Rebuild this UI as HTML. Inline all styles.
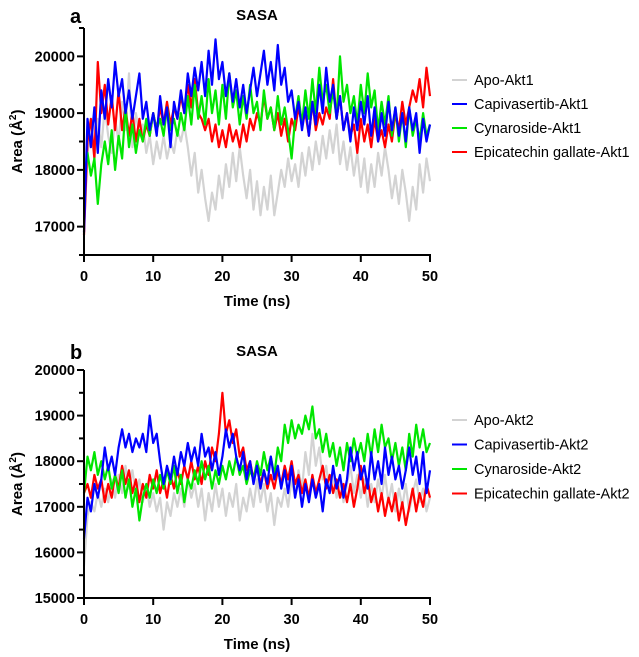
<!DOCTYPE html>
<html><head><meta charset="utf-8"><style>
body{margin:0;background:#fff;font-family:"Liberation Sans",Arial,sans-serif;}
svg text{font-family:"Liberation Sans",Arial,sans-serif;}
</style></head><body>
<svg id="chart" width="639" height="652" viewBox="0 0 639 652" xmlns="http://www.w3.org/2000/svg"></svg>
<script>
const seriesNamesA = ["Apo-Akt1","Capivasertib-Akt1","Cynaroside-Akt1","Epicatechin gallate-Akt1"];
const seriesNamesB = ["Apo-Akt2","Capivasertib-Akt2","Cynaroside-Akt2","Epicatechin gallate-Akt2"];
const seriesColors = ["#d3d3d3","#0000ff","#00e600","#ff0000"];
const timeStep = 0.5;
const xTicks = [0,10,20,30,40,50];
const yTicksA = [17000,18000,19000,20000];
const yTicksB = [15000,16000,17000,18000,19000,20000];

const apoA = [16900,18300,18700,18200,18900,18400,19100,18600,18300,18900,18500,19200,18700,19700,18400,19000,18600,18800,18300,18600,18100,18500,18200,18600,18200,18500,18300,18700,18500,18800,18400,17900,18300,17600,18000,17500,17100,17600,17300,17900,17500,18100,17700,18300,17800,18400,17900,17500,18000,17300,17800,17200,17700,17300,17900,17200,17600,18000,17700,18200,17800,18100,17700,18300,17900,18400,18000,18500,18100,18600,18200,18700,18300,18800,18100,18500,18000,18400,17900,18300,17700,18200,17600,18100,17700,18300,17900,18400,18000,17500,17900,17400,18000,17600,17100,17700,17300,18100,17600,18200,17800];
const capA = [16900,18900,18400,19100,18300,19400,18900,19600,19100,19900,19300,19600,19000,19400,18900,19300,19700,18900,19200,18700,19000,18600,19300,18800,19100,18400,19200,18900,19400,19000,19700,19300,19800,19400,19900,19300,20100,19500,20300,19600,19900,19300,19700,19200,19600,19100,19500,19000,19400,19800,19300,19700,20100,19500,19900,19400,20200,19500,19800,19200,19400,18900,19200,18700,19100,18600,19200,18800,19500,19000,19800,19200,19500,18900,19300,18700,19000,18500,19100,18700,19200,18800,19300,18600,19100,18500,19000,18600,19200,18700,19100,18600,19000,18500,19100,18700,19000,18300,18900,18500,18800];
const cynA = [17800,18300,17900,18200,17400,18100,18500,18100,18700,18000,18600,18200,19100,18400,18800,18300,18700,18500,18900,18600,19000,18700,18900,18600,19100,18700,18900,18600,19000,18700,19300,18800,19500,18900,19300,18800,19600,19000,19400,18800,19500,18900,19700,19100,19400,18800,19300,18900,19500,19000,19200,18700,19400,18900,19100,18700,19300,18800,19100,18700,18200,18900,19300,18800,19400,18900,19600,19000,19800,19200,19500,19000,19400,18900,20000,19200,19500,19000,19300,18800,19500,19000,19700,19100,19400,18700,19200,18800,19300,18600,19100,18500,19000,18400,19100,18600,18900,18500,19000,18600,18800];
const epiA = [16850,18500,18900,18200,19900,19000,19500,18800,19300,18700,19400,18700,19100,18600,19000,18500,18900,18500,18800,18600,19000,18700,19100,18800,19200,18800,19100,18900,19300,19000,19500,19100,19600,19000,18900,18700,18900,18500,18800,18400,18700,18400,18800,18500,18700,18400,18800,18500,18900,18700,19000,18800,19300,18900,19100,18700,19000,18600,18900,18500,18900,18700,19100,18800,19000,18600,19200,18700,19000,18800,19100,18900,19600,18900,19300,18700,19000,18600,18800,18300,18900,18500,18800,18400,18900,18500,18700,18400,18800,18500,19000,18700,19200,18800,19100,19400,19200,19600,19100,19800,19300];

const apoB = [15700,16800,17100,16900,17300,17000,17400,17100,17600,17200,17700,17300,17900,17400,17800,17300,17600,17100,17500,17000,17300,16900,17200,16500,17100,16800,17300,17000,17400,17000,17600,17200,17500,17000,17400,16700,17300,16900,17500,17000,17400,16800,17300,17000,17500,16700,17200,16900,17400,17000,17600,17100,17500,16900,17300,16600,17200,17000,17400,17000,17600,17200,17800,17400,18200,17700,18600,17900,18300,17600,17900,17300,17700,17200,17600,17100,17500,17900,17300,17700,17200,17600,17000,17500,17100,17600,17200,17700,17100,17500,16900,17400,17000,17500,16900,17300,17600,17100,17400,16900,17200];
const capB = [16300,17200,16900,17500,17200,17600,18300,17800,18100,17700,18300,18700,18300,18600,18200,18500,18300,18600,18200,19000,18400,18600,18000,17500,17900,17600,18100,17700,18200,17900,18400,18000,18300,17900,18600,18100,18300,17800,18200,17700,18100,18700,18300,18600,18100,17800,18200,17600,18000,17500,17900,17400,17800,17500,18100,17600,17900,17400,17800,17300,17900,17200,17600,17000,17500,17100,17600,17200,17500,16900,17600,17300,17900,17400,17700,17200,17600,18300,17800,18200,17600,17900,17400,18200,17600,18000,17500,18300,17700,18100,17600,17900,17400,17800,18300,17700,18100,17500,18200,17300,17800];
const cynB = [17300,18100,17800,18200,17700,18000,17600,17900,17400,17700,17300,17800,17200,17600,17000,17400,16700,17200,17500,17200,17600,17300,17700,17400,17800,17500,17900,17300,17700,17100,17600,17400,17800,17500,18000,17600,17900,17400,17800,17500,17900,17600,18000,17700,18100,17700,17900,17500,17800,17600,18000,17700,18200,17800,18100,17700,18300,18000,18800,18400,18900,18500,18800,18600,19000,18700,19200,18500,18700,18200,18600,18100,18400,17900,18300,17800,18400,18000,18500,18100,18400,18000,18600,18100,18700,18200,18800,18300,18500,18000,18400,17900,18300,17800,18600,18100,18800,18300,18700,18200,18400];
const epiB = [17300,17500,17200,17700,17400,17600,17100,17500,17200,17700,17400,17900,17500,17800,17300,17600,17100,17500,17200,17700,17400,17800,17300,17600,17200,17700,17400,17800,17500,17900,17600,18000,17600,17900,17500,18000,17700,18300,18000,18600,19500,18600,18900,18400,18700,18100,18300,17800,18000,17600,17900,17500,17800,17400,17700,17400,17800,17500,17900,17600,18000,17500,17700,17300,17600,17200,17700,17300,17600,17900,17400,17700,17300,17600,17200,17500,17100,17500,17000,17400,17900,17300,17600,17100,17400,16900,17300,16800,17200,16900,17300,16700,17100,16600,17000,17400,16900,17300,17000,17500,17200];

const NS = "http://www.w3.org/2000/svg";
const svg = document.getElementById("chart");
function mk(tag, attrs, parent){ const e=document.createElementNS(NS,tag); for(const k in attrs) e.setAttribute(k,attrs[k]); (parent||svg).appendChild(e); return e; }

function panel(cfg){
  const g = mk("g",{});
  
  
  const x0=84, x1=430;
  const xS = t => x0 + (t/50)*(x1-x0);
  const yS = v => cfg.yTop + (cfg.vTop - v)/(cfg.vTop - cfg.vBot)*(cfg.yBot - cfg.yTop);
  const order=[0,3,2,1];
  order.forEach(si=>{
    const d = cfg.data[si].map((v,i)=>(i?"L":"M")+xS(i*timeStep).toFixed(1)+","+yS(v).toFixed(1)).join("");
    const p = mk("path",{d:d,fill:"none",stroke:seriesColors[si],"stroke-width":2.2,"stroke-linejoin":"round"},g);
    
    
  });
  const ya = mk("line",{x1:x0,y1:cfg.yTop,x2:x0,y2:cfg.yBot,stroke:"#000","stroke-width":2},g);
  
  
  const xa = mk("line",{x1:x0-1,y1:cfg.yBot,x2:x1+1,y2:cfg.yBot,stroke:"#000","stroke-width":2},g);
  
  
  for(let v=cfg.vBot; v<=cfg.vTop+1; v+=500){
    const major = cfg.yTicks.indexOf(v)>=0;
    mk("line",{x1:x0-(major?7:5),y1:yS(v),x2:x0,y2:yS(v),stroke:"#000","stroke-width":2},g);
  }
  cfg.yTicks.forEach(v=>{
    const t = mk("text",{x:x0-9,y:yS(v)+5,"text-anchor":"end","font-size":14.5,"font-weight":"bold"},g);
    t.textContent=v;
    
    
  });
  xTicks.forEach(v=>{
    mk("line",{x1:xS(v),y1:cfg.yBot,x2:xS(v),y2:cfg.yBot+7,stroke:"#000","stroke-width":2},g);
    const t = mk("text",{x:xS(v),y:cfg.yBot+26,"text-anchor":"middle","font-size":14.5,"font-weight":"bold"},g);
    t.textContent=v;
    
    
  });
  const xt = mk("text",{x:257,y:cfg.yBot+51,"text-anchor":"middle","font-size":15,"font-weight":"bold"},g);
  xt.textContent="Time (ns)";
  
  
  const cy=(cfg.yTop+cfg.yBot)/2;
  const yt = mk("text",{x:0,y:0,transform:`translate(22,${cy}) rotate(-90)`,"text-anchor":"middle","font-size":15,"font-weight":"bold"},g);
  yt.innerHTML='Area (Å<tspan dy="-6" font-size="10">2</tspan><tspan dy="6">)</tspan>';
  
  
  const tt = mk("text",{x:257,y:cfg.titleY,"text-anchor":"middle","font-size":15,"font-weight":"bold"},g);
  tt.textContent="SASA";
  
  
  const lt = mk("text",{x:70,y:cfg.titleY+3,"font-size":20,"font-weight":"bold"},g);
  lt.textContent=cfg.letter;
  
  
  cfg.names.forEach((n,i)=>{
    const ly = cfg.legY + i*cfg.legStep;
    const le = mk("g",{},g);
    
    
    mk("line",{x1:452,y1:ly,x2:467,y2:ly,stroke:seriesColors[i],"stroke-width":2},le);
    const t = mk("text",{x:474,y:ly+5,"font-size":14.5},le);
    t.textContent=n;
  });
}
panel({id:"akt1",letter:"a",data:[apoA,capA,cynA,epiA],names:seriesNamesA,yTicks:yTicksA,vTop:20500,vBot:16500,yTop:28,yBot:255,titleY:20,legY:80,legStep:24});
panel({id:"akt2",letter:"b",data:[apoB,capB,cynB,epiB],names:seriesNamesB,yTicks:yTicksB,vTop:20000,vBot:15000,yTop:370,yBot:598,titleY:356,legY:420,legStep:24.5});
</script>
</body></html>
